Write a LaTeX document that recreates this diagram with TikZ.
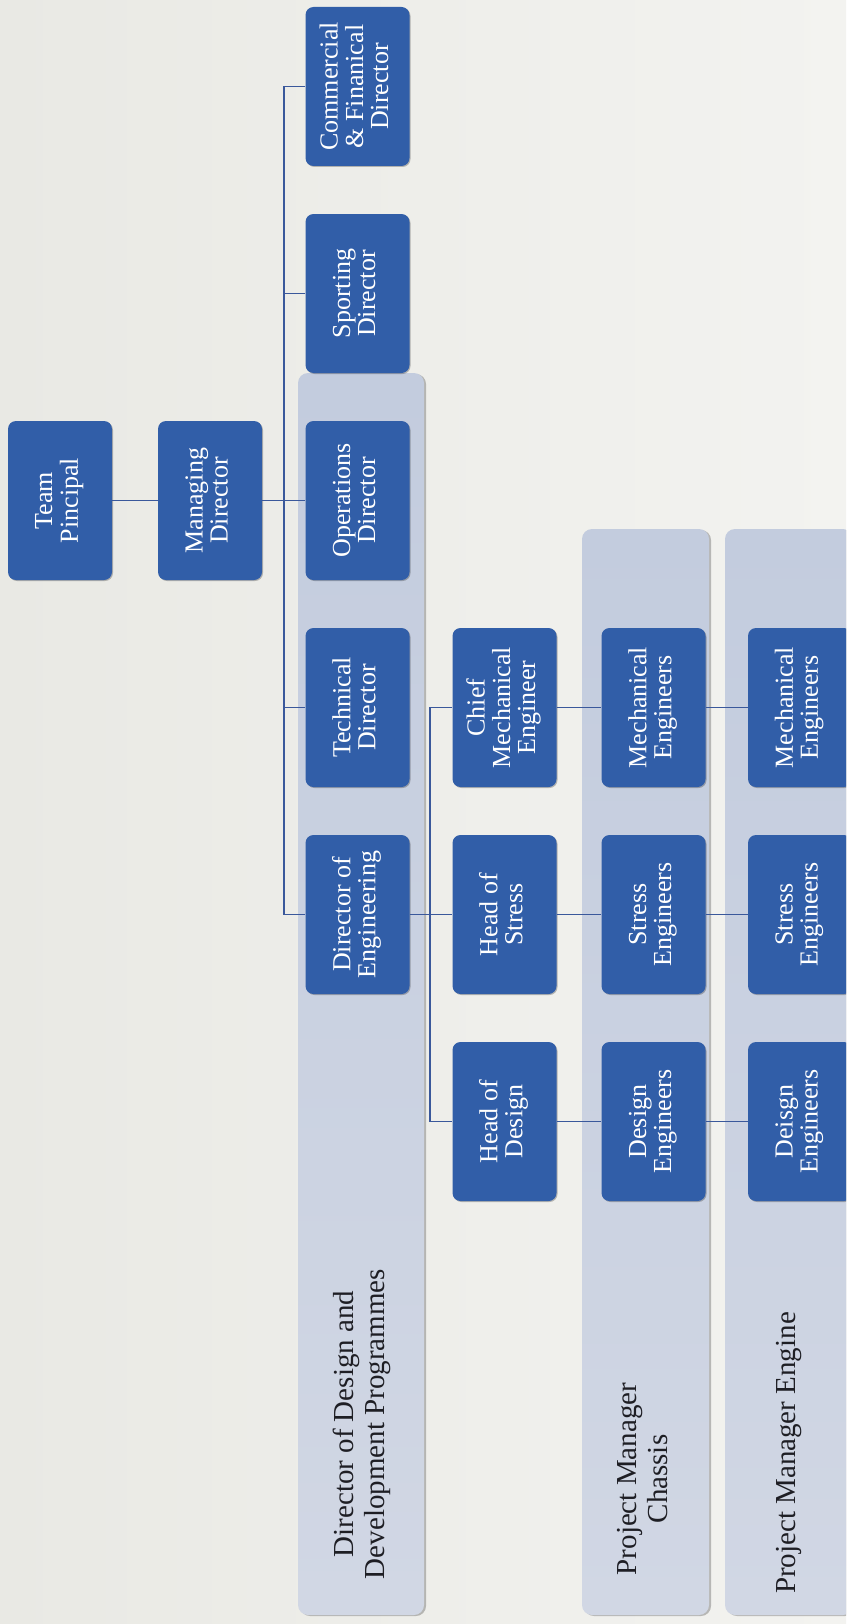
\documentclass[tikz,border=0pt]{standalone}
\usepackage{fontspec}
\setmainfont{Liberation Serif}
\usetikzlibrary{shadows}

\definecolor{paperL}{RGB}{233,233,228}
\definecolor{paperR}{RGB}{243,243,240}
\definecolor{boxblue}{RGB}{49,94,168}
\definecolor{bandtop}{RGB}{195,204,222}
\definecolor{bandbot}{RGB}{209,215,228}
\definecolor{linkblue}{RGB}{58,88,155}
\definecolor{labelgray}{RGB}{30,30,36}

% text set sideways, reading upwards
\newcommand{\vlines}[1]{\rotatebox{90}{\begin{tabular}{@{}c@{}}#1\end{tabular}}}

\tikzset{
  role/.style={rectangle, rounded corners=8pt, minimum width=104pt,
    minimum height=159pt, inner sep=0pt, fill=boxblue, text=white,
    font=\fontsize{26}{25}\selectfont,
    drop shadow={shadow xshift=1pt, shadow yshift=-1pt, opacity=0.25, fill=black}},
  band/.style={rounded corners=10pt, top color=bandtop, bottom color=bandbot,
    drop shadow={shadow xshift=2pt, shadow yshift=-1pt, opacity=0.35, fill=black!70}},
  link/.style={draw=linkblue, line width=1.3pt},
  bandlabel/.style={text=labelgray, inner sep=0pt,
    font=\fontsize{29}{31}\selectfont},
}

\begin{document}
\begin{tikzpicture}[x=1pt, y=-1pt]
  \useasboundingbox (0,0) rectangle (846,1624);
  \clip (0,0) rectangle (846,1624);
  \shade[left color=paperL, right color=paperR] (0,0) rectangle (846,1624);

  % programme bands
  \path[band] (298,373) rectangle (424,1615);
  \path[band] (582,529) rectangle (709,1615);
  \path[band] (725,529) rectangle (853,1615);

  \node[bandlabel] (ddp) at (363,1424) {\vlines{Director of Design and\\Development Programmes}};
  \node[bandlabel] (pmc) at (646,1479) {\vlines{Project Manager\\Chassis}};
  \node[bandlabel] (pme) at (789,1453) {\vlines{Project Manager Engine}};

  % roles
  \node[role] (team) at (60,500.5)    {\vlines{Team\\Pincipal}};
  \node[role] (md)   at (210,500.5)   {\vlines{Managing\\Director}};
  \node[role] (cfd)  at (357.5,86.5)  {\vlines{Commercial\\\& Finanical\\Director}};
  \node[role] (spd)  at (357.5,293.5) {\vlines{Sporting\\Director}};
  \node[role] (opd)  at (357.5,500.5) {\vlines{Operations\\Director}};
  \node[role] (tcd)  at (357.5,707.5) {\vlines{Technical\\Director}};
  \node[role] (doe)  at (357.5,914.5) {\vlines{Director of\\Engineering}};
  \node[role] (cme)  at (504.5,707.5) {\vlines{Chief\\Mechanical\\Engineer}};
  \node[role] (hos)  at (504.5,914.5) {\vlines{Head of\\Stress}};
  \node[role] (hod)  at (504.5,1121.5){\vlines{Head of\\Design}};
  \node[role] (mec)  at (653.5,707.5) {\vlines{Mechanical\\Engineers}};
  \node[role] (sec)  at (653.5,914.5) {\vlines{Stress\\Engineers}};
  \node[role] (dec)  at (653.5,1121.5){\vlines{Design\\Engineers}};
  \node[role] (mee)  at (800,707.5)   {\vlines{Mechanical\\Engineers}};
  \node[role] (see)  at (800,914.5)   {\vlines{Stress\\Engineers}};
  \node[role] (dee)  at (800,1121.5)  {\vlines{Deisgn\\Engineers}};

  % reporting lines
  \coordinate (busL) at (284,0);
  \coordinate (busR) at (430,0);
  \draw[link] (team.east) -- (md.west);
  \draw[link] (md.east) -- (opd.west);
  \draw[link] (cfd.west) -- (cfd.west -| busL) -- (doe.west -| busL) -- (doe.west);
  \draw[link] (spd.west) -- (spd.west -| busL);
  \draw[link] (tcd.west) -- (tcd.west -| busL);
  \draw[link] (doe.east) -- (hos.west);
  \draw[link] (cme.west) -- (cme.west -| busR) -- (hod.west -| busR) -- (hod.west);
  \draw[link] (cme.east) -- (mec.west);
  \draw[link] (hos.east) -- (sec.west);
  \draw[link] (hod.east) -- (dec.west);
  \draw[link] (mec.east) -- (mee.west);
  \draw[link] (sec.east) -- (see.west);
  \draw[link] (dec.east) -- (dee.west);
\end{tikzpicture}
\end{document}
